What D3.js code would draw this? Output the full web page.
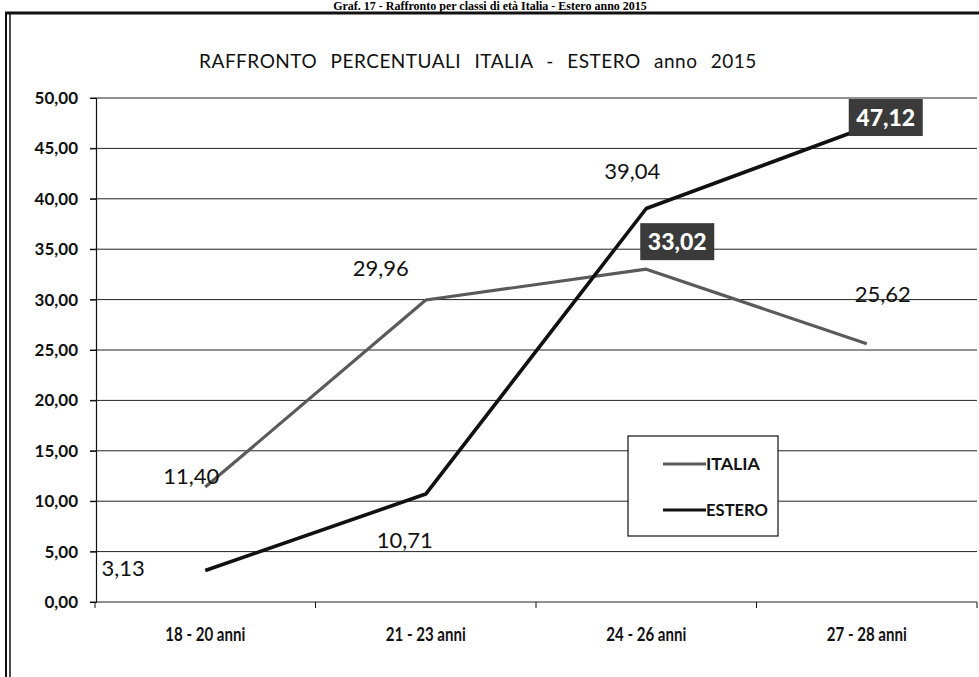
<!DOCTYPE html>
<html>
<head>
<meta charset="utf-8">
<script src="https://cdnjs.cloudflare.com/ajax/libs/d3/7.8.5/d3.min.js"></script>
<style>
body { margin: 0; background: #fff; }
svg { display: block; }
</style>
</head>
<body>
<script>
// data
var categories = ["18 - 20 anni", "21 - 23 anni", "24 - 26 anni", "27 - 28 anni"];
var italia = [11.40, 29.96, 33.02, 25.62];
var estero = [3.13, 10.71, 39.04, 47.12];
var yTicks = [0, 5, 10, 15, 20, 25, 30, 35, 40, 45, 50];
var seriesNames = ["ITALIA", "ESTERO"];

var W = 979, H = 677;
var svg = d3.select("body").append("svg")
    .attr("width", W)
    .attr("height", H);

var font = "Lato, 'Open Sans', sans-serif";
var fmt = function(v) { return v.toFixed(2).replace(".", ","); };

// scales
var x = d3.scalePoint().domain(categories).range([95, 977]).padding(0.5);
var y = d3.scaleLinear().domain([0, 50]).range([602, 98]);

// header above the frame
svg.append("text")
    .attr("x", 490).attr("y", 10)
    .attr("text-anchor", "middle")
    .style("font-family", "'Liberation Serif', serif")
    .style("font-weight", "bold")
    .style("font-size", "12px")
    .text("Graf. 17 - Raffronto per classi di età Italia - Estero anno 2015");

// frame
svg.append("line").attr("x1", 5).attr("x2", W).attr("y1", 13).attr("y2", 13)
    .attr("stroke", "#111").attr("stroke-width", 3);
svg.append("line").attr("x1", 6).attr("x2", 6).attr("y1", 12).attr("y2", H)
    .attr("stroke", "#111").attr("stroke-width", 2);
svg.append("line").attr("x1", 10).attr("x2", 10).attr("y1", 12).attr("y2", H)
    .attr("stroke", "#111").attr("stroke-width", 1.5);

// title
svg.append("text")
    .attr("x", 478).attr("y", 68)
    .attr("text-anchor", "middle")
    .style("font-family", font)
    .style("font-size", "19px")
    .style("word-spacing", "8px")
    .style("letter-spacing", "0.5px")
    .attr("fill", "#111")
    .text("RAFFRONTO PERCENTUALI ITALIA - ESTERO anno 2015");

// gridlines
svg.append("g").selectAll("line")
    .data(yTicks)
    .enter().append("line")
    .attr("x1", 90).attr("x2", 977)
    .attr("y1", function(d) { return y(d); })
    .attr("y2", function(d) { return y(d); })
    .attr("stroke", "#222").attr("stroke-width", 1);

// y axis
var yAxis = svg.append("g")
    .attr("transform", "translate(96,0)")
    .call(d3.axisLeft(y).tickValues(yTicks).tickSize(6).tickPadding(12).tickFormat(fmt));
yAxis.select(".domain").attr("stroke", "#111").attr("stroke-width", 1.2);
yAxis.selectAll("text")
    .style("font-family", font)
    .style("font-weight", "bold")
    .style("font-size", "17px")
    .attr("fill", "#111");

// x axis (ticks between categories)
svg.append("g").selectAll("line")
    .data(d3.range(categories.length + 1))
    .enter().append("line")
    .attr("x1", function(i) { return x.range()[0] + i * x.step(); })
    .attr("x2", function(i) { return x.range()[0] + i * x.step(); })
    .attr("y1", y(0)).attr("y2", y(0) + 6)
    .attr("stroke", "#111");
svg.append("g").selectAll("text")
    .data(categories)
    .enter().append("text")
    .attr("x", function(d) { return x(d) - 40; })
    .attr("y", 641)
    .attr("textLength", 80)
    .attr("lengthAdjust", "spacingAndGlyphs")
    .style("font-family", font)
    .style("font-weight", "bold")
    .style("font-size", "18px")
    .attr("fill", "#111")
    .text(function(d) { return d; });

// lines
var line = d3.line()
    .x(function(d, i) { return x(categories[i]); })
    .y(function(d) { return y(d); });

svg.append("path").datum(italia)
    .attr("d", line)
    .attr("fill", "none")
    .attr("stroke", "#5a5a5a")
    .attr("stroke-width", 3.2)
    .attr("stroke-linejoin", "round");

svg.append("path").datum(estero)
    .attr("d", line)
    .attr("fill", "none")
    .attr("stroke", "#111")
    .attr("stroke-width", 3.6)
    .attr("stroke-linejoin", "round");

// data labels: offsets from each point, boxed ones flagged
var italiaLabels = [
    {dx: -14, dy: -3, box: false},
    {dx: -45, dy: -24, box: false},
    {dx: 31, dy: -27, box: true},
    {dx: 16, dy: -42, box: false}
];
var esteroLabels = [
    {dx: -82, dy: 6, box: false},
    {dx: -21, dy: 54, box: false},
    {dx: -14, dy: -29, box: false},
    {dx: 19, dy: -9, box: true}
];

function drawLabels(vals, place) {
    vals.forEach(function(v, i) {
        var px = x(categories[i]) + place[i].dx;
        var py = y(v) + place[i].dy;
        if (place[i].box) {
            svg.append("rect")
                .attr("x", px - 37).attr("y", py - 19)
                .attr("width", 74).attr("height", 37)
                .attr("fill", "#3a3a3a");
            svg.append("text")
                .attr("x", px).attr("y", py + 8)
                .attr("text-anchor", "middle")
                .style("font-family", font)
                .style("font-weight", "900")
                .style("font-size", "23px")
                .attr("fill", "#fff")
                .text(fmt(v));
        } else {
            svg.append("text")
                .attr("x", px).attr("y", py)
                .attr("text-anchor", "middle")
                .style("font-family", font)
                .style("font-size", "22px")
                .attr("fill", "#111")
                .text(fmt(v));
        }
    });
}
drawLabels(italia, italiaLabels);
drawLabels(estero, esteroLabels);

// legend
var legend = svg.append("g").attr("transform", "translate(628,436)");
legend.append("rect")
    .attr("width", 150).attr("height", 100)
    .attr("fill", "#fff")
    .attr("stroke", "#111").attr("stroke-width", 1.2);
var legendColors = ["#5a5a5a", "#111"];
var legendWidths = [54, 62];
seriesNames.forEach(function(name, i) {
    var ly = 28 + i * 46;
    legend.append("line")
        .attr("x1", 35).attr("x2", 78)
        .attr("y1", ly).attr("y2", ly)
        .attr("stroke", legendColors[i]).attr("stroke-width", 3.2);
    legend.append("text")
        .attr("x", 78).attr("y", ly + 6)
        .attr("textLength", legendWidths[i])
        .attr("lengthAdjust", "spacingAndGlyphs")
        .style("font-family", font)
        .style("font-weight", "bold")
        .style("font-size", "17px")
        .attr("fill", "#111")
        .text(name);
});
</script>
</body>
</html>
